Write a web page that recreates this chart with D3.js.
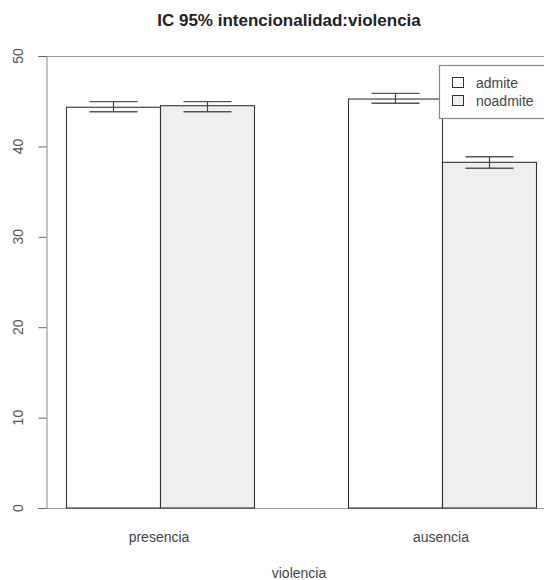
<!DOCTYPE html>
<html><head><meta charset="utf-8">
<script src="https://cdn.jsdelivr.net/npm/d3@7"></script>
<style>body{margin:0;background:#fff}svg{display:block}text{font-family:"Liberation Sans",Arial,sans-serif}</style>
</head><body><svg id="c" width="544" height="580"></svg>
<script>
const categories = ["presencia", "ausencia"];
const series = ["admite", "noadmite"];
const means = { admite: [44.33, 45.24], noadmite: [44.5, 38.24] };
const lower = { admite: [43.84, 44.77], noadmite: [43.84, 37.58] };
const upper = { admite: [44.95, 45.87], noadmite: [44.95, 38.86] };
const yTicks = [0, 10, 20, 30, 40, 50];
const fills = { admite: "#ffffff", noadmite: "#efefef" };

const svg = d3.select("#c");
const y = d3.scaleLinear().domain([0, 50]).range([508, 56]);
const x0 = d3.scaleBand().domain(categories).range([66, 536]).paddingInner(1/3).paddingOuter(0);
const x1 = d3.scaleBand().domain(series).range([0, x0.bandwidth()]).padding(0);

// title
svg.append("text").attr("x", 289).attr("y", 26).attr("text-anchor", "middle")
  .attr("font-size", 17).attr("font-weight", "bold").attr("fill", "#222")
  .text("IC 95% intencionalidad:violencia");

// horizontal frame lines at 0 and 50
svg.selectAll("line.h").data([0, 50]).join("line").attr("class", "h")
  .attr("x1", 38).attr("x2", 544).attr("y1", d => Math.round(y(d)) + 0.5).attr("y2", d => Math.round(y(d)) + 0.5)
  .attr("stroke", "#999").attr("stroke-width", 1.2);

// y axis
const yAxis = svg.append("g").attr("transform", "translate(46.5,0)")
  .call(d3.axisLeft(y).tickValues(yTicks).tickSize(8).tickSizeOuter(0));
yAxis.select(".domain").attr("stroke", "#888");
yAxis.selectAll(".tick line").attr("stroke", "#666");
yAxis.selectAll(".tick text").remove();
svg.selectAll("text.yl").data(yTicks).join("text").attr("class", "yl")
  .attr("transform", d => `translate(23,${y(d)}) rotate(-90)`)
  .attr("text-anchor", "middle").attr("font-size", 14).attr("fill", "#555").text(d => d);

// bars
const g = svg.selectAll("g.grp").data(categories).join("g").attr("class", "grp")
  .attr("transform", d => `translate(${x0(d)},0)`);
series.forEach(s => {
  g.append("rect")
    .attr("x", (d) => x1(s) + 0.5)
    .attr("y", (d, i) => y(means[s][i]))
    .attr("width", x1.bandwidth())
    .attr("height", (d, i) => y(0) - y(means[s][i]))
    .attr("fill", fills[s]).attr("stroke", "#333").attr("stroke-width", 1.1);
});
// error bars
series.forEach(s => {
  const cx = (i) => x1(s) + x1.bandwidth() / 2 + 0.5;
  g.append("line").attr("x1", (d, i) => cx(i)).attr("x2", (d, i) => cx(i))
    .attr("y1", (d, i) => y(upper[s][i])).attr("y2", (d, i) => y(lower[s][i]))
    .attr("stroke", "#444").attr("stroke-width", 1.2);
  [upper, lower].forEach(arr => {
    g.append("line").attr("x1", (d, i) => cx(i) - 24).attr("x2", (d, i) => cx(i) + 24)
      .attr("y1", (d, i) => y(arr[s][i])).attr("y2", (d, i) => y(arr[s][i]))
      .attr("stroke", "#555").attr("stroke-width", 1.4);
  });
});

// x labels
svg.selectAll("text.xl").data(categories).join("text").attr("class", "xl")
  .attr("x", d => x0(d) + x0.bandwidth() / 2 - 1).attr("y", 542)
  .attr("text-anchor", "middle").attr("font-size", 14).attr("fill", "#444").text(d => d);
svg.append("text").attr("x", 299).attr("y", 578).attr("text-anchor", "middle")
  .attr("font-size", 14).attr("fill", "#444").text("violencia");

// legend
const lg = svg.append("g");
lg.append("rect").attr("x", 439.5).attr("y", 65.5).attr("width", 120).attr("height", 53)
  .attr("fill", "#fff").attr("stroke", "#888").attr("stroke-width", 1.2);
series.forEach((s, i) => {
  lg.append("rect").attr("x", 452.5).attr("y", 77.5 + i * 18).attr("width", 11).attr("height", 10)
    .attr("fill", fills[s]).attr("stroke", "#333");
  lg.append("text").attr("x", 476).attr("y", 88 + i * 18).attr("font-size", 14).attr("fill", "#444").text(s);
});
</script></body></html>
